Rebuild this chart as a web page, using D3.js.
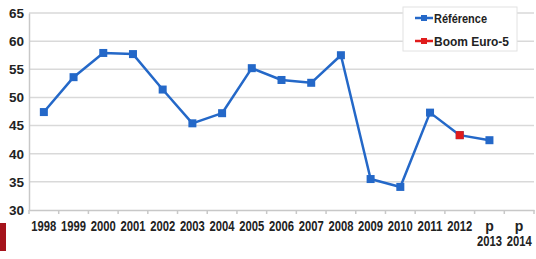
<!DOCTYPE html>
<html><head><meta charset="utf-8">
<script src="https://cdn.jsdelivr.net/npm/d3@7"></script>
<style>body{margin:0;background:#fff}svg{display:block}</style>
</head><body>
<script>
const categories = ["1998","1999","2000","2001","2002","2003","2004","2005","2006","2007","2008","2009","2010","2011","2012","p\n2013","p\n2014"];
const reference = [47.4,53.6,57.9,57.7,51.4,45.4,47.2,55.2,53.1,52.6,57.5,35.5,34.1,47.3,43.3,42.4,null];
const boomEuro5 = [null,null,null,null,null,null,null,null,null,null,null,null,null,null,43.3,null,null];
const yTicks = [30,35,40,45,50,55,60,65];
const seriesNames = ["Référence","Boom Euro-5"];
const colors = ["#2468c8","#e01c1c"];

const W=536,H=259;
const svg=d3.select("body").append("svg").attr("width",W).attr("height",H);
const x=d3.scaleBand().domain(categories).range([29,534]);
const y=d3.scaleLinear().domain([30,65]).range([210,13]);

// gridlines
svg.append("g").selectAll("line").data(yTicks.filter(d=>d>30)).join("line")
 .attr("x1",29).attr("x2",534).attr("y1",d=>y(d)).attr("y2",d=>y(d))
 .attr("stroke","#d9d9d9").attr("stroke-width",1.5);

// y axis
const ya=svg.append("g").attr("transform","translate(29,0)")
 .call(d3.axisLeft(y).tickValues(yTicks).tickSize(0).tickPadding(5));
ya.select(".domain").attr("stroke","#c8c8c8").attr("stroke-width",1.5);
ya.selectAll("text").attr("font-family","Liberation Sans, Arial").attr("font-weight","bold")
 .attr("font-size",13.5).attr("fill","#222");

// x axis
const xa=svg.append("g").attr("transform","translate(0,210)")
 .call(d3.axisBottom(x).tickSize(4).tickSizeOuter(0).tickFormat(""));
xa.select(".domain").attr("stroke","#c8c8c8").attr("stroke-width",1.5);
xa.selectAll(".tick line").attr("stroke","#c8c8c8").attr("stroke-width",1.5)
 .attr("transform",`translate(${-x.bandwidth()/2},0)`);
const lastTick=x.range()[1];
xa.append("line").attr("x1",lastTick).attr("x2",lastTick).attr("y1",0).attr("y2",4).attr("stroke","#c8c8c8").attr("stroke-width",1.5);
svg.append("g").selectAll("text").data(categories).join("text")
 .attr("x",d=>x(d)+x.bandwidth()/2).attr("y",231)
 .attr("text-anchor","middle").attr("font-family","Liberation Sans, Arial")
 .attr("font-weight","bold").attr("font-size",14).attr("fill","#222")
 .each(function(d){
   const parts=d.split("\n");
   d3.select(this).selectAll("tspan").data(parts).join("tspan")
     .attr("x",x(d)+x.bandwidth()/2).attr("dy",(p,i)=>i===0?0:15)
     .attr("textLength",p=>p.length===4?25:null)
     .attr("lengthAdjust","spacingAndGlyphs")
     .text(p=>p);
 });

const cx=d=>x(d)+x.bandwidth()/2;
const line=d3.line().defined(d=>d[1]!=null).x(d=>cx(d[0])).y(d=>y(d[1]));
[reference,boomEuro5].forEach((vals,si)=>{
  const pts=categories.map((c,i)=>[c,vals[i]]);
  svg.append("path").datum(pts).attr("d",line).attr("fill","none")
    .attr("stroke",colors[si]).attr("stroke-width",2.5).attr("stroke-linejoin","round");
  svg.append("g").selectAll("rect").data(pts.filter(p=>p[1]!=null)).join("rect")
    .attr("x",p=>cx(p[0])-4).attr("y",p=>y(p[1])-4).attr("width",8).attr("height",8)
    .attr("fill",colors[si]);
});

// legend
const lg=svg.append("g");
lg.append("rect").attr("x",403).attr("y",7).attr("width",114).attr("height",44)
 .attr("fill","#fff").attr("stroke","#e2e2e2");
seriesNames.forEach((n,i)=>{
  const yy=18+i*23;
  lg.append("line").attr("x1",415).attr("x2",433).attr("y1",yy).attr("y2",yy).attr("stroke",colors[i]).attr("stroke-width",2.5);
  lg.append("rect").attr("x",421).attr("y",yy-3).attr("width",6).attr("height",6).attr("fill",colors[i]);
  lg.append("text").attr("x",434).attr("y",yy+4.5).text(n).attr("font-family","Liberation Sans, Arial")
   .attr("font-weight","bold").attr("font-size",12.5).attr("fill","#222")
   .attr("textLength",i===0?53:75).attr("lengthAdjust","spacingAndGlyphs");
});

// red corner decoration
svg.append("rect").attr("x",0).attr("y",223).attr("width",6).attr("height",28).attr("fill","#a5141c");
</script>
</body></html>
